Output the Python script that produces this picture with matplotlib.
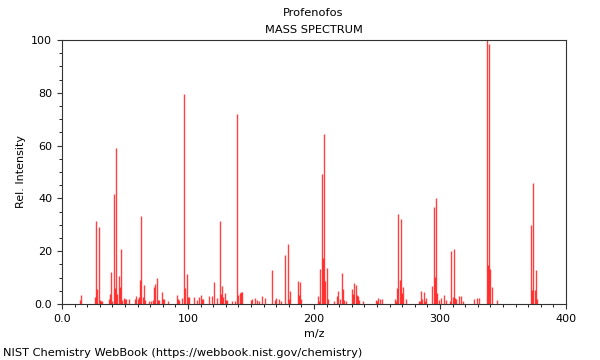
import matplotlib
matplotlib.use('Agg')
import matplotlib.pyplot as plt
from matplotlib.ticker import MultipleLocator, FuncFormatter

# peak list
mz = [14, 15, 26, 27, 28, 29, 30, 31, 32, 37, 38, 39, 40, 41, 42, 43, 44, 45, 46, 47,
      48, 49, 50, 51, 53, 58, 59, 60, 61, 62, 63, 64, 65, 66, 69, 71, 72, 73, 74, 75,
      76, 77, 79, 80, 81, 84, 91, 92, 93, 95, 97, 98, 99, 100, 101, 105, 107, 109, 110, 111,
      112, 117, 119, 121, 123, 125, 126, 127, 128, 129, 130, 131, 135, 137, 139, 140, 141, 142, 143, 150,
      151, 153, 155, 156, 159, 161, 167, 169, 170, 172, 174, 177, 179, 180, 181, 187, 188, 189, 190, 203,
      204, 205, 206, 207, 208, 209, 210, 211, 216, 218, 219, 221, 222, 223, 224, 225, 230, 231, 232, 233,
      234, 235, 236, 239, 249, 250, 251, 252, 254, 264, 265, 266, 267, 268, 269, 270, 271, 273, 283, 284,
      285, 286, 287, 288, 289, 294, 295, 296, 297, 298, 299, 301, 303, 305, 308, 309, 310, 311, 312, 313,
      315, 317, 318, 327, 329, 331, 337, 338, 339, 340, 341, 345, 372, 373, 374, 375, 376, 377]
intensity = [1.5, 3.4, 2.5, 31.5, 5.6, 29.0, 1.5, 1.1, 1.0, 1.8, 3.8, 12.0, 1.3, 41.8, 6.0, 59.0, 3.7, 10.5, 6.3, 21.0,
             1.5, 2.1, 1.8, 1.8, 1.8, 1.8, 3.2, 1.9, 2.8, 9.1, 33.5, 2.8, 7.2, 1.5, 1.1, 1.0, 1.5, 6.5, 7.5, 10.0,
             1.5, 1.5, 4.4, 1.8, 2.0, 1.1, 3.4, 1.8, 1.5, 2.4, 79.5, 6.2, 11.4, 2.6, 2.5, 2.5, 1.5, 2.8, 3.3, 1.8,
             1.8, 3.0, 3.0, 8.3, 2.1, 31.4, 3.7, 6.8, 2.8, 4.0, 1.5, 1.5, 1.1, 1.1, 72.0, 3.4, 4.0, 4.5, 4.7, 1.5,
             1.8, 2.1, 1.5, 1.2, 3.0, 2.1, 12.9, 1.5, 2.4, 1.9, 1.1, 18.6, 22.7, 1.8, 5.0, 8.7, 3.4, 8.5, 1.9, 3.2,
             1.1, 13.4, 49.2, 17.3, 64.3, 8.7, 13.6, 1.9, 1.1, 3.0, 4.9, 1.9, 11.6, 5.7, 1.5, 1.1, 5.7, 3.7, 8.1, 7.2,
             3.4, 3.0, 1.5, 1.1, 1.5, 1.0, 2.1, 1.9, 1.8, 1.9, 1.2, 6.0, 34.0, 9.0, 32.2, 4.0, 6.3, 1.9, 1.1, 1.1,
             4.8, 1.9, 4.7, 1.1, 2.1, 6.7, 36.8, 10.3, 40.2, 4.3, 1.5, 2.1, 3.3, 1.5, 1.1, 20.1, 2.8, 21.0, 2.4, 1.9,
             3.0, 3.0, 1.1, 1.8, 2.4, 2.3, 100.0, 14.7, 98.6, 13.1, 6.4, 1.6, 29.9, 5.3, 45.7, 5.3, 12.8, 1.8]

fig = plt.figure(figsize=(6.0, 3.6), dpi=100)
ax = fig.add_axes([62 / 600, 1 - 304 / 360, 504 / 600, 264 / 360])

ax.vlines(mz, 0, intensity, color='red', linewidth=1.0, alpha=0.75)

ax.set_xlim(0, 400)
ax.set_ylim(0, 100)
ax.xaxis.set_major_locator(MultipleLocator(100))
ax.xaxis.set_minor_locator(MultipleLocator(10))
ax.yaxis.set_major_locator(MultipleLocator(20))
ax.yaxis.set_minor_locator(MultipleLocator(5))
fmt = FuncFormatter(lambda v, p: '0.0' if v == 0 else '%d' % v)
ax.xaxis.set_major_formatter(fmt)
ax.yaxis.set_major_formatter(fmt)
ax.tick_params(labelsize=8, color='#333333')
for s in ax.spines.values():
    s.set_color('#333333')

ax.set_xlabel('m/z', fontsize=8)
ax.set_ylabel('Rel. Intensity', fontsize=8)

fig.text(313 / 600, 1 - 13 / 360, 'Profenofos', ha='center', va='center', fontsize=8.2)
fig.text(314 / 600, 1 - 30 / 360, 'MASS SPECTRUM', ha='center', va='center', fontsize=8.2)
fig.text(3 / 600, 1 - 353 / 360, 'NIST Chemistry WebBook (https://webbook.nist.gov/chemistry)',
         ha='left', va='center', fontsize=8.2)

plt.savefig('out.png', dpi=100)
